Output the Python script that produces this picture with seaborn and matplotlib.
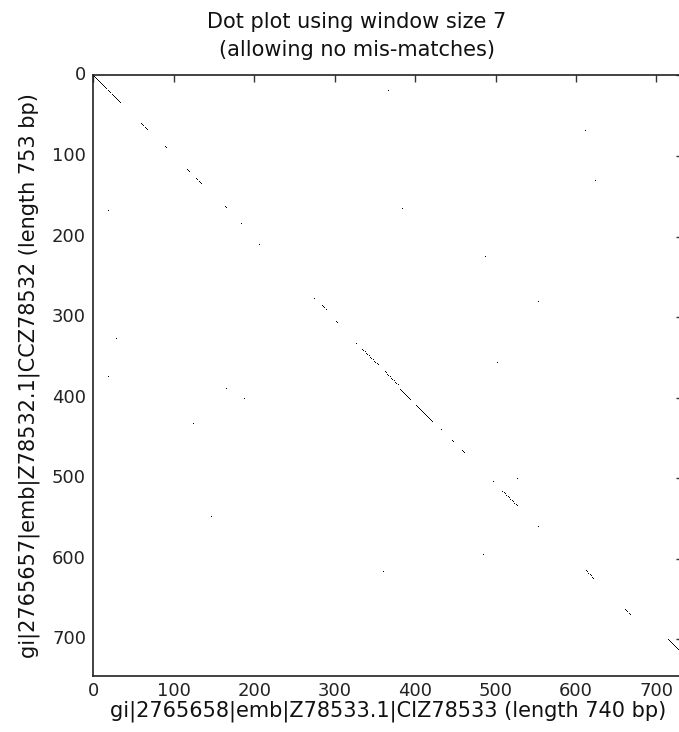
import numpy as np
import matplotlib
matplotlib.use("Agg")
import matplotlib.pyplot as plt
import seaborn as sns

# ---- data: matching windows ----
len_one = 740          # x sequence length (bp)
len_two = 753          # y sequence length (bp)
window = 7

# diagonal runs of matching windows: start x, start y, run length
seg_x = [0, 59, 74, 89, 117, 128, 163, 184, 190, 205,
         275, 283, 302, 327, 335, 362, 382, 401, 432, 447, 459,
         497, 508, 553, 576, 613, 662, 715]
seg_y = [0, 59, 74, 87, 117, 128, 162, 184, 192, 208,
         277, 284, 305, 333, 340, 367, 390, 409, 439, 453, 466,
         504, 515, 560, 583, 615, 663, 700]
seg_len = [35, 9, 1, 3, 4, 7, 3, 1, 1, 3,
           1, 8, 3, 1, 20, 18, 13, 22, 2, 3, 3,
           3, 20, 1, 1, 10, 7, 18]

# isolated single matches
dot_x = [19, 29, 19, 63, 165, 188, 124, 147, 114, 361, 485, 496, 498,
         367, 273, 375, 612, 624, 384, 488, 666, 553, 502, 326, 467, 527]
dot_y = [168, 327, 374, 380, 389, 401, 432, 548, 628, 616, 595, 589, 695,
         19, 66, 62, 68, 130, 165, 225, 271, 281, 356, 393, 434, 500]

title_text = "Dot plot using window size %i\n(allowing no mis-matches)" % window
xlabel_text = "gi|2765658|emb|Z78533.1|CIZ78533 (length %i bp)" % len_one
ylabel_text = "gi|2765657|emb|Z78532.1|CCZ78532 (length %i bp)" % len_two
tick_values = [0, 100, 200, 300, 400, 500, 600, 700]

# ---- build the match matrix (1 = mismatch/white, 0 = match/black) ----
n_cols = len_one - window
n_rows = len_two - window
data = np.ones((n_rows, n_cols))
for x0, y0, n in zip(seg_x, seg_y, seg_len):
    for k in range(n):
        if y0 + k < n_rows and x0 + k < n_cols:
            data[y0 + k, x0 + k] = 0
for x0, y0 in zip(dot_x, dot_y):
    data[y0, x0] = 0

# ---- plot ----
sns.set_style("white")
plt.rcParams['font.family'] = ['DejaVu Sans']

W, H = 679, 732
fig = plt.figure(figsize=(W / 100, H / 100), dpi=100)
ax = fig.add_axes([93 / W, 1 - 676 / H, 589.5 / W, 601 / H])

sns.heatmap(data, mask=(data == 1), cmap="gray", vmin=0, vmax=0.8,
            cbar=False, ax=ax, antialiased=True, linewidths=0,
            square=False)

ax.set_xlim(0, n_cols)
ax.set_ylim(n_rows, 0)
ax.set_xticks([v + 0.5 for v in tick_values])
ax.set_xticklabels([str(v) for v in tick_values], rotation=0)
ax.set_yticks([v + 0.5 for v in tick_values])
ax.set_yticklabels([str(v) for v in tick_values], rotation=0)
ax.tick_params(direction="in", length=5, width=1, color="#333333",
               top=True, right=True, labelsize=13, pad=5, labelcolor="#222222")
ax.tick_params(axis="x", pad=4)
for s in ax.spines.values():
    s.set_visible(True)
    s.set_linewidth(1.2)
    s.set_color("#222222")

ax.set_title(title_text, fontsize=15, color="#111111", pad=14,
             linespacing=1.5, x=0.448)
ax.set_xlabel(xlabel_text, fontsize=15, color="#111111", labelpad=1)
ax.set_ylabel(ylabel_text, fontsize=15, color="#111111", labelpad=9)

fig.savefig("out.png", dpi=100, facecolor="white")
